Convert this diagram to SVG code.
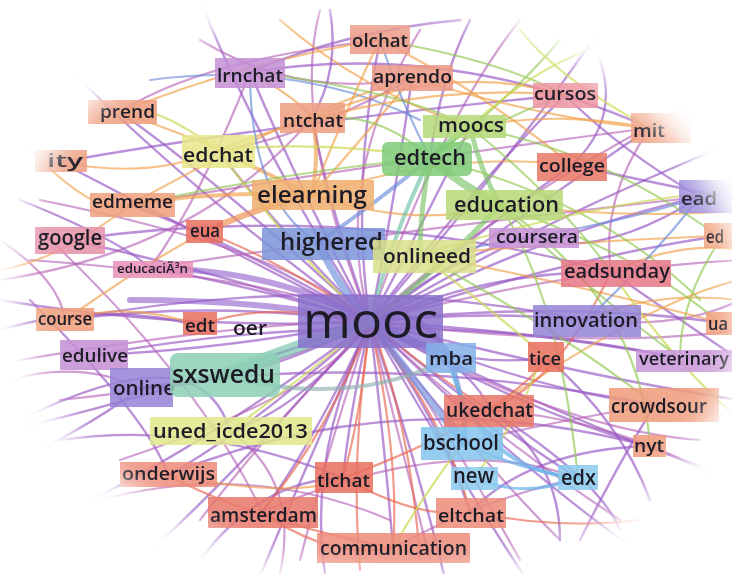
<svg xmlns="http://www.w3.org/2000/svg" width="732" height="574" viewBox="0 0 732 574">
<defs>
<style>
.e path{fill:none;stroke-linecap:round}
.p{stroke:#9a5cc6;stroke-width:2.4;opacity:.68}
.p2{stroke:#b45fb4;stroke-width:2.2;opacity:.62}
.pt{stroke:#8f5ccc;stroke-width:6;opacity:.6}
.o{stroke:#f0a048;stroke-width:2.2;opacity:.65}
.ot{stroke:#ee8c4c;stroke-width:6;opacity:.65}
.r{stroke:#e8654f;stroke-width:2.2;opacity:.65}
.g{stroke:#90c850;stroke-width:2.2;opacity:.65}
.gt{stroke:#7cc46a;stroke-width:8;opacity:.65}
.y{stroke:#ccd855;stroke-width:2.2;opacity:.7}
.b{stroke:#6a8ad8;stroke-width:2.2;opacity:.65}
.bt{stroke:#6f8fdc;stroke-width:8;opacity:.65}
.lb{stroke:#6cb6ea;stroke-width:4;opacity:.75}
.t{stroke:#70c2aa;stroke-width:12;opacity:.65}
.box{opacity:.86}
.lbl{font-family:"Open Sans","Liberation Sans",sans-serif;font-weight:600;fill:#1d1b26;font-size:18px}
</style>
<filter id="soft" x="-20%" y="-20%" width="140%" height="140%"><feGaussianBlur stdDeviation="14"/></filter>
<mask id="vig" maskUnits="userSpaceOnUse" x="0" y="0" width="732" height="574">
<ellipse cx="378" cy="292" rx="362" ry="285" fill="#fff" filter="url(#soft)" transform="rotate(6 378 292)"/>
</mask>
</defs>
<rect width="732" height="574" fill="#fff"/>
<g mask="url(#vig)">
<g id="connectors" class="e">
<path class="p" d="M370 322 Q350 190 380 40"/>
<path class="p" d="M370 322 Q395 200 412 78"/>
<path class="p" d="M370 322 Q300 190 250 72"/>
<path class="p" d="M370 322 Q330 210 312 118"/>
<path class="p" d="M370 322 Q470 190 565 95"/>
<path class="p" d="M370 322 Q430 210 470 127"/>
<path class="p" d="M370 322 Q530 210 650 128"/>
<path class="p" d="M370 322 Q270 220 218 150"/>
<path class="p" d="M370 322 Q480 230 572 165"/>
<path class="p" d="M370 322 Q240 245 130 205"/>
<path class="p" d="M370 322 Q210 270 70 240"/>
<path class="p" d="M370 322 Q250 285 150 268"/>
<path class="p" d="M370 322 Q190 230 60 162"/>
<path class="p" d="M370 322 Q230 190 120 112"/>
<path class="p" d="M370 322 Q210 300 65 320"/>
<path class="p" d="M370 322 Q220 350 95 355"/>
<path class="p" d="M370 322 Q250 385 140 388"/>
<path class="p" d="M370 322 Q300 410 230 431"/>
<path class="p" d="M370 322 Q250 430 168 475"/>
<path class="p" d="M370 322 Q310 450 262 512"/>
<path class="p" d="M370 322 Q350 410 343 478"/>
<path class="p" d="M370 322 Q385 450 393 548"/>
<path class="p" d="M370 322 Q440 420 470 512"/>
<path class="p" d="M370 322 Q470 360 490 410"/>
<path class="p" d="M370 322 Q530 390 655 405"/>
<path class="p" d="M370 322 Q520 410 648 446"/>
<path class="p" d="M370 322 Q530 330 680 358"/>
<path class="p" d="M370 322 Q550 300 718 322"/>
<path class="p" d="M370 322 Q480 310 587 320"/>
<path class="p" d="M370 322 Q490 270 611 272"/>
<path class="p" d="M370 322 Q550 230 700 197"/>
<path class="p" d="M370 322 Q560 260 718 236"/>
<path class="p" d="M370 322 Q460 250 530 238"/>
<path class="p" d="M370 322 Q450 370 547 358"/>
<path class="p" d="M370 322 Q500 430 578 478"/>
<path class="p" d="M370 322 Q180 330 0 300"/>
<path class="p" d="M370 322 Q180 390 10 430"/>
<path class="p" d="M370 322 Q200 450 70 510"/>
<path class="p" d="M370 322 Q230 480 140 560"/>
<path class="p" d="M370 322 Q300 480 250 600"/>
<path class="p" d="M370 322 Q460 480 540 600"/>
<path class="p" d="M370 322 Q520 470 650 560"/>
<path class="p" d="M370 322 Q560 420 740 480"/>
<path class="p" d="M370 322 Q540 220 740 140"/>
<path class="p" d="M370 322 Q520 150 620 0"/>
<path class="p" d="M370 322 Q260 150 200 0"/>
<path class="p" d="M370 322 Q200 200 60 60"/>
<path class="p" d="M370 322 Q300 470 330 600"/>
<path class="p" d="M370 322 Q420 470 450 600"/>
<path class="p" d="M370 322 Q600 380 740 400"/>
<path class="p2" d="M370 322 Q330 180 420 30"/>
<path class="p2" d="M370 322 Q260 320 20 360"/>
<path class="p2" d="M370 322 Q270 430 200 520"/>
<path class="p2" d="M370 322 Q330 440 300 560"/>
<path class="p2" d="M370 322 Q400 440 430 560"/>
<path class="p2" d="M370 322 Q480 460 560 540"/>
<path class="p2" d="M370 322 Q560 430 700 440"/>
<path class="p2" d="M370 322 Q600 350 740 330"/>
<path class="p2" d="M370 322 Q560 270 740 260"/>
<path class="p2" d="M370 322 Q500 200 700 100"/>
<path class="p2" d="M370 322 Q290 250 40 200"/>
<path class="p2" d="M370 322 Q300 280 30 260"/>
<path class="p2" d="M370 322 Q260 380 60 400"/>
<path class="p2" d="M370 322 Q330 390 120 460"/>
<path class="p2" d="M370 322 Q420 380 520 560"/>
<path class="p2" d="M370 322 Q470 420 620 520"/>
<path class="p2" d="M370 322 Q290 120 320 10"/>
<path class="p2" d="M370 322 Q440 120 520 20"/>
<path class="p" d="M70 240 Q350 200 611 272"/>
<path class="p" d="M65 320 Q330 270 587 320"/>
<path class="p" d="M95 355 Q400 300 680 358"/>
<path class="p" d="M140 388 Q380 350 655 405"/>
<path class="p2" d="M150 268 Q400 230 700 197"/>
<path class="p2" d="M130 205 Q400 160 650 128"/>
<path class="p" d="M60 162 Q300 120 565 95"/>
<path class="p" d="M250 72 Q450 40 650 128"/>
<path class="p2" d="M120 112 Q200 60 380 40"/>
<path class="p" d="M168 475 Q400 380 648 446"/>
<path class="p2" d="M262 512 Q450 430 578 478"/>
<path class="p" d="M700 197 Q600 260 530 238"/>
<path class="p2" d="M0 280 Q200 250 312 118"/>
<path class="p" d="M20 420 Q200 330 230 431"/>
<path class="p2" d="M40 230 Q200 380 262 512"/>
<path class="p" d="M30 300 Q150 420 168 475"/>
<path class="p2" d="M490 410 Q620 420 720 480"/>
<path class="p" d="M547 358 Q620 420 650 500"/>
<path class="p2" d="M587 320 Q680 330 740 300"/>
<path class="p" d="M611 272 Q680 320 740 360"/>
<path class="p2" d="M463 443 Q560 420 655 405"/>
<path class="p" d="M490 410 Q600 480 620 530"/>
<path class="p2" d="M150 268 Q200 200 250 72"/>
<path class="p" d="M250 72 Q350 30 460 20"/>
<path class="p2" d="M200 40 Q300 100 412 78"/>
<path class="b" d="M150 80 Q300 60 420 120"/>
<path class="o" d="M280 20 Q360 90 470 127"/>
<path class="p" d="M330 10 Q340 70 312 118"/>
<path class="p" d="M470 20 Q440 80 430 158"/>
<path class="g" d="M560 40 Q500 110 430 158"/>
<path class="p" d="M600 60 Q620 120 572 165"/>
<path class="y" d="M520 30 Q560 80 650 128"/>
<path class="o" d="M380 40 Q250 60 120 112"/>
<path class="p2" d="M412 78 Q300 140 218 150"/>
<path class="p" d="M565 95 Q620 150 700 197"/>
<path class="p2" d="M650 128 Q600 200 611 272"/>
<path class="p" d="M60 440 Q200 420 343 478"/>
<path class="p2" d="M100 500 Q250 460 390 520"/>
<path class="p" d="M200 560 Q260 480 343 478"/>
<path class="p2" d="M280 574 Q300 480 230 431"/>
<path class="p" d="M470 512 Q530 450 648 446"/>
<path class="p2" d="M393 548 Q480 500 578 478"/>
<path class="p" d="M490 410 Q560 460 560 540"/>
<path class="p" d="M580 540 Q620 460 655 405"/>
<path class="p" d="M0 330 Q100 300 200 326"/>
<path class="p2" d="M10 380 Q80 360 140 388"/>
<path class="p" d="M20 200 Q120 240 150 268"/>
<path class="p2" d="M0 240 Q60 280 65 320"/>
<path class="p" d="M20 460 Q100 420 140 388"/>
<path class="o" d="M30 150 Q100 220 130 205"/>
<path class="o" d="M740 300 Q650 290 587 320"/>
<path class="y" d="M740 420 Q680 370 611 272"/>
<path class="g" d="M720 240 Q680 300 680 358"/>
<path class="p" d="M740 200 Q640 180 572 165"/>
<path class="pt" d="M370 322 Q280 270 150 268"/>
<path class="pt" d="M370 322 Q270 300 130 300"/>
<path class="pt" d="M370 322 Q420 300 450 358"/>
<path class="ot" d="M312 195 Q250 210 205 232"/>
<path class="o" style="stroke-width:4" d="M312 195 Q220 190 130 205"/>
<path class="o" style="stroke-width:4" d="M312 195 Q260 170 218 150"/>
<path class="o" style="stroke-width:4" d="M312 195 Q320 150 312 118"/>
<path class="o" d="M312 195 Q370 130 412 78"/>
<path class="o" d="M312 195 Q350 100 380 40"/>
<path class="o" d="M312 195 Q450 150 572 165"/>
<path class="o" d="M312 195 Q420 230 500 205"/>
<path class="o" d="M218 150 Q400 80 565 95"/>
<path class="o" d="M130 205 Q300 110 412 78"/>
<path class="o" d="M412 78 Q550 120 650 128"/>
<path class="o" d="M60 162 Q150 180 218 150"/>
<path class="o" d="M200 326 Q130 300 65 320"/>
<path class="o" d="M65 320 Q150 260 205 232"/>
<path class="o" d="M718 322 Q560 280 420 255"/>
<path class="o" d="M420 255 Q600 240 718 236"/>
<path class="o" d="M490 410 Q650 300 740 280"/>
<path class="o" d="M500 205 Q650 220 740 210"/>
<path class="o" d="M250 72 Q300 100 312 118"/>
<path class="o" d="M120 112 Q200 140 218 150"/>
<path class="o" d="M470 127 Q560 110 650 128"/>
<path class="o" d="M130 205 Q60 260 0 270"/>
<path class="o" d="M380 40 Q480 90 572 165"/>
<path class="o" d="M312 118 Q450 60 565 95"/>
<path class="o" d="M168 475 Q300 500 343 478"/>
<path class="o" d="M611 272 Q680 240 740 250"/>
<path class="r" d="M370 322 Q260 300 200 326"/>
<path class="r" d="M370 322 Q360 420 343 478"/>
<path class="r" d="M370 322 Q330 430 262 512"/>
<path class="r" d="M370 322 Q400 460 393 548"/>
<path class="r" d="M370 322 Q450 430 470 512"/>
<path class="r" d="M370 322 Q440 380 490 410"/>
<path class="r" d="M343 478 Q420 520 470 512"/>
<path class="r" d="M262 512 Q330 560 393 548"/>
<path class="r" d="M168 475 Q250 520 393 548"/>
<path class="r" d="M343 478 Q500 420 548 358"/>
<path class="r" d="M490 410 Q560 380 611 272"/>
<path class="r" d="M370 322 Q410 420 420 560"/>
<path class="r" d="M370 322 Q350 460 360 570"/>
<path class="r" d="M205 232 Q280 260 370 322"/>
<path class="r" d="M470 512 Q560 530 640 520"/>
<path class="gt" d="M430 158 Q460 185 500 205"/>
<path class="gt" style="stroke-width:6" d="M430 158 Q450 140 470 127"/>
<path class="gt" style="stroke-width:5" d="M430 158 Q420 210 420 255"/>
<path class="gt" style="stroke-width:5" d="M470 127 Q480 170 500 205"/>
<path class="gt" style="stroke-width:5" d="M500 205 Q450 260 370 322"/>
<path class="g" d="M500 205 Q650 260 718 322"/>
<path class="g" d="M500 205 Q600 300 680 358"/>
<path class="g" d="M470 127 Q600 150 718 236"/>
<path class="g" d="M430 158 Q600 200 700 300"/>
<path class="g" d="M420 255 Q560 330 655 405"/>
<path class="g" d="M500 205 Q640 300 650 446"/>
<path class="g" d="M380 40 Q500 60 565 95"/>
<path class="g" d="M250 72 Q400 90 470 127"/>
<path class="g" d="M430 158 Q520 110 565 95"/>
<path class="g" d="M312 118 Q380 110 430 158"/>
<path class="g" d="M470 127 Q560 200 611 272"/>
<path class="g" d="M500 205 Q560 300 578 478"/>
<path class="g" d="M430 158 Q300 170 130 205"/>
<path class="y" d="M218 150 Q330 140 430 158"/>
<path class="y" d="M218 150 Q300 260 370 322"/>
<path class="y" d="M230 431 Q300 380 370 322"/>
<path class="y" d="M420 255 Q480 300 547 358"/>
<path class="y" d="M474 477 Q520 420 540 360"/>
<path class="y" d="M218 150 Q150 100 120 112"/>
<path class="y" d="M420 255 Q600 200 740 190"/>
<path class="y" d="M470 127 Q540 60 620 40"/>
<path class="y" d="M463 443 Q420 500 393 548"/>
<path class="bt" style="stroke-width:7" d="M318 243 Q340 290 370 322"/>
<path class="b" style="stroke-width:4" d="M318 243 Q380 200 430 158"/>
<path class="b" d="M318 243 Q250 200 250 72"/>
<path class="b" d="M380 40 Q400 100 430 158"/>
<path class="b" d="M587 320 Q650 260 700 197"/>
<path class="b" d="M700 197 Q600 230 420 255"/>
<path class="bt" d="M370 322 Q410 340 450 358"/>
<path class="bt" style="stroke-width:7" d="M370 322 Q430 400 463 443"/>
<path class="b" style="stroke-width:5" d="M450 358 Q470 420 463 443"/>
<path class="lb" d="M450 365 Q480 470 578 478"/>
<path class="lb" style="stroke-width:3" d="M463 443 Q520 470 578 478"/>
<path class="lb" style="stroke-width:3" d="M474 477 Q520 500 578 478"/>
<path class="t" d="M370 322 Q300 345 220 375"/>
<path class="t" style="stroke-width:4;stroke:#8fb0b0" d="M220 375 Q350 410 450 358"/>
<path class="t" style="stroke-width:4" d="M430 158 Q390 240 370 322"/>
</g>
<g id="n-olchat"><rect class="box" x="350" y="25" width="60" height="29" fill="#ec9a86"/><text class="lbl" x="352" y="47" textLength="56" lengthAdjust="spacingAndGlyphs">olchat</text></g>
<g id="n-aprendo"><rect class="box" x="372" y="65" width="81" height="26" fill="#ec9a86"/><text class="lbl" x="373" y="83" textLength="79" lengthAdjust="spacingAndGlyphs">aprendo</text></g>
<g id="n-lrnchat"><rect class="box" x="215" y="58" width="70" height="30" fill="#c48fd4"/><text class="lbl" x="217" y="82" textLength="66" lengthAdjust="spacingAndGlyphs">lrnchat</text></g>
<g id="n-prend"><rect class="box" x="88" y="100" width="69" height="24" fill="#ee9e80"/><text class="lbl" x="100" y="118" textLength="55" lengthAdjust="spacingAndGlyphs">prend</text></g>
<g id="n-ntchat"><rect class="box" x="280" y="103" width="65" height="30" fill="#ee9e80"/><text class="lbl" x="283" y="127" textLength="60" lengthAdjust="spacingAndGlyphs">ntchat</text></g>
<g id="n-edchat"><rect class="box" x="182" y="135" width="73" height="33" fill="#e8e68a"/><text class="lbl" x="183" y="162" style="font-size:20px" textLength="70" lengthAdjust="spacingAndGlyphs">edchat</text></g>
<g id="n-ity"><rect class="box" x="35" y="150" width="52" height="22" fill="#ee9e80"/><text class="lbl" x="47" y="167" textLength="36" lengthAdjust="spacingAndGlyphs">ity</text></g>
<g id="n-cursos"><rect class="box" x="533" y="83" width="65" height="25" fill="#ec94a0"/><text class="lbl" x="534" y="100" textLength="62" lengthAdjust="spacingAndGlyphs">cursos</text></g>
<g id="n-moocs"><rect class="box" x="423" y="115" width="83" height="23" fill="#b4d878"/><text class="lbl" x="438" y="132" style="font-size:20px" textLength="66" lengthAdjust="spacingAndGlyphs">moocs</text></g>
<g id="n-mit"><rect class="box" x="631" y="113" width="60" height="30" fill="#f0a080"/><text class="lbl" x="633" y="137" textLength="32" lengthAdjust="spacingAndGlyphs">mit</text></g>
<g id="n-edtech"><rect class="box" x="382" y="142" width="90" height="34" rx="6" fill="#80cc78"/><text class="lbl" x="394" y="165" style="font-size:22px" textLength="72" lengthAdjust="spacingAndGlyphs">edtech</text></g>
<g id="n-college"><rect class="box" x="537" y="153" width="70" height="28" fill="#e87866"/><text class="lbl" x="539" y="172" textLength="66" lengthAdjust="spacingAndGlyphs">college</text></g>
<g id="n-elearning"><rect class="box" x="252" y="180" width="122" height="30" fill="#f0b070" opacity=".6"/><text class="lbl" x="257" y="203" style="font-size:24px" textLength="110" lengthAdjust="spacingAndGlyphs">elearning</text></g>
<g id="n-education"><rect class="box" x="446" y="190" width="117" height="30" fill="#b8d878"/><text class="lbl" x="454" y="212" style="font-size:21px" textLength="105" lengthAdjust="spacingAndGlyphs">education</text></g>
<g id="n-edmeme"><rect class="box" x="90" y="193" width="85" height="24" fill="#f0a07c"/><text class="lbl" x="92" y="208" textLength="81" lengthAdjust="spacingAndGlyphs">edmeme</text></g>
<g id="n-ead"><rect class="box" x="679" y="180" width="60" height="33" fill="#9a8ad8"/><text class="lbl" x="681" y="205" textLength="36" lengthAdjust="spacingAndGlyphs">ead</text></g>
<g id="n-eua"><rect class="box" x="186" y="220" width="37" height="23" fill="#e8705e"/><text class="lbl" x="190" y="237" textLength="30" lengthAdjust="spacingAndGlyphs">eua</text></g>
<g id="n-highered"><rect class="box" x="262" y="228" width="123" height="32" fill="#7d95d8"/><text class="lbl" x="280" y="250" style="font-size:24px" textLength="103" lengthAdjust="spacingAndGlyphs">highered</text></g>
<g id="n-google"><rect class="box" x="35" y="227" width="70" height="27" fill="#e592a8"/><text class="lbl" x="38" y="245" style="font-size:21px" textLength="64" lengthAdjust="spacingAndGlyphs">google</text></g>
<g id="n-coursera"><rect class="box" x="489" y="228" width="90" height="20" fill="#c690d6" opacity=".6"/><text class="lbl" x="496" y="243" textLength="82" lengthAdjust="spacingAndGlyphs">coursera</text></g>
<g id="n-ed"><rect class="box" x="704" y="223" width="34" height="25" fill="#f0a07c"/><text class="lbl" x="706" y="243" textLength="18" lengthAdjust="spacingAndGlyphs">ed</text></g>
<g id="n-onlineed"><rect class="box" x="373" y="240" width="103" height="33" fill="#d8e088"/><text class="lbl" x="383" y="263" style="font-size:20px" textLength="88" lengthAdjust="spacingAndGlyphs">onlineed</text></g>
<g id="n-educacion"><rect class="box" x="113" y="261" width="80" height="17" fill="#e890b8"/><text class="lbl" x="117" y="273" style="font-size:12px" textLength="71" lengthAdjust="spacingAndGlyphs">educaciÃ³n</text></g>
<g id="n-eadsunday"><rect class="box" x="561" y="260" width="110" height="27" fill="#e87888"/><text class="lbl" x="564" y="278" style="font-size:19px" textLength="106" lengthAdjust="spacingAndGlyphs">eadsunday</text></g>
<g id="n-course"><rect class="box" x="36" y="308" width="58" height="23" fill="#f0a07c"/><text class="lbl" x="38" y="325" textLength="54" lengthAdjust="spacingAndGlyphs">course</text></g>
<g id="n-edt"><rect class="box" x="183" y="312" width="34" height="23" fill="#e8705e"/><text class="lbl" x="185" y="332" textLength="30" lengthAdjust="spacingAndGlyphs">edt</text></g>
<g id="n-oer"><text class="lbl" x="233" y="335" style="font-size:20px" textLength="34" lengthAdjust="spacingAndGlyphs">oer</text></g>
<g id="n-mooc"><rect class="box" x="298" y="295" width="145" height="53" fill="#8a72cc"/><text class="lbl" x="303" y="338" style="font-size:50px;font-weight:400" textLength="135" lengthAdjust="spacingAndGlyphs">mooc</text></g>
<g id="n-innovation"><rect class="box" x="533" y="305" width="108" height="32" fill="#9585d6"/><text class="lbl" x="534" y="327" style="font-size:19px" textLength="104" lengthAdjust="spacingAndGlyphs">innovation</text></g>
<g id="n-ua"><rect class="box" x="706" y="312" width="34" height="23" fill="#f0a07c"/><text class="lbl" x="708" y="330" textLength="20" lengthAdjust="spacingAndGlyphs">ua</text></g>
<g id="n-edulive"><rect class="box" x="60" y="340" width="68" height="30" fill="#c48fd4"/><text class="lbl" x="62" y="362" textLength="66" lengthAdjust="spacingAndGlyphs">edulive</text></g>
<g id="n-mba"><rect class="box" x="426" y="343" width="50" height="30" fill="#84b0e8"/><text class="lbl" x="429" y="365" textLength="44" lengthAdjust="spacingAndGlyphs">mba</text></g>
<g id="n-tice"><rect class="box" x="528" y="342" width="36" height="30" fill="#e8705e"/><text class="lbl" x="529" y="365" textLength="32" lengthAdjust="spacingAndGlyphs">tice</text></g>
<g id="n-veterinary"><rect class="box" x="636" y="350" width="110" height="22" fill="#c896d8"/><text class="lbl" x="639" y="365" textLength="90" lengthAdjust="spacingAndGlyphs">veterinary</text></g>
<g id="n-online"><rect class="box" x="110" y="368" width="63" height="39" fill="#9683d6"/><text class="lbl" x="113" y="395" style="font-size:20px" textLength="62" lengthAdjust="spacingAndGlyphs">online</text></g>
<g id="n-sxswedu"><rect class="box" x="170" y="353" width="110" height="44" rx="8" fill="#8ed0b4"/><text class="lbl" x="172" y="383" style="font-size:25px" textLength="103" lengthAdjust="spacingAndGlyphs">sxswedu</text></g>
<g id="n-ukedchat"><rect class="box" x="444" y="395" width="90" height="32" fill="#e8786a"/><text class="lbl" x="446" y="417" style="font-size:19px" textLength="87" lengthAdjust="spacingAndGlyphs">ukedchat</text></g>
<g id="n-crowdsour"><rect class="box" x="609" y="388" width="110" height="34" fill="#ef9c7c"/><text class="lbl" x="611" y="413" style="font-size:19px" textLength="96" lengthAdjust="spacingAndGlyphs">crowdsour</text></g>
<g id="n-uned"><rect class="box" x="150" y="417" width="162" height="28" fill="#e2e88c"/><text class="lbl" x="153" y="438" style="font-size:20px" textLength="155" lengthAdjust="spacingAndGlyphs">uned_icde2013</text></g>
<g id="n-bschool"><rect class="box" x="421" y="427" width="82" height="33" fill="#84c4ec"/><text class="lbl" x="423" y="450" style="font-size:21px" textLength="76" lengthAdjust="spacingAndGlyphs">bschool</text></g>
<g id="n-nyt"><rect class="box" x="633" y="435" width="33" height="22" fill="#ef9c7c"/><text class="lbl" x="634" y="452" textLength="30" lengthAdjust="spacingAndGlyphs">nyt</text></g>
<g id="n-onderwijs"><rect class="box" x="120" y="462" width="97" height="25" fill="#ec8c7a"/><text class="lbl" x="122" y="480" textLength="93" lengthAdjust="spacingAndGlyphs">onderwijs</text></g>
<g id="n-tlchat"><rect class="box" x="315" y="462" width="58" height="31" fill="#e8705e"/><text class="lbl" x="317" y="487" textLength="53" lengthAdjust="spacingAndGlyphs">tlchat</text></g>
<g id="n-new"><rect class="box" x="451" y="467" width="47" height="23" fill="#8ccbee"/><text class="lbl" x="453" y="483" style="font-size:21px" textLength="41" lengthAdjust="spacingAndGlyphs">new</text></g>
<g id="n-edx"><rect class="box" x="558" y="465" width="40" height="25" fill="#8ccbee"/><text class="lbl" x="561" y="485" style="font-size:21px" textLength="35" lengthAdjust="spacingAndGlyphs">edx</text></g>
<g id="n-amsterdam"><rect class="box" x="208" y="497" width="110" height="31" fill="#e8786a"/><text class="lbl" x="210" y="522" style="font-size:19px" textLength="107" lengthAdjust="spacingAndGlyphs">amsterdam</text></g>
<g id="n-eltchat"><rect class="box" x="436" y="498" width="70" height="30" fill="#ec8c7a"/><text class="lbl" x="438" y="522" textLength="66" lengthAdjust="spacingAndGlyphs">eltchat</text></g>
<g id="n-communication"><rect class="box" x="317" y="533" width="153" height="30" fill="#ec8c7a"/><text class="lbl" x="320" y="555" style="font-size:19px" textLength="147" lengthAdjust="spacingAndGlyphs">communication</text></g>
</g>
</svg>
